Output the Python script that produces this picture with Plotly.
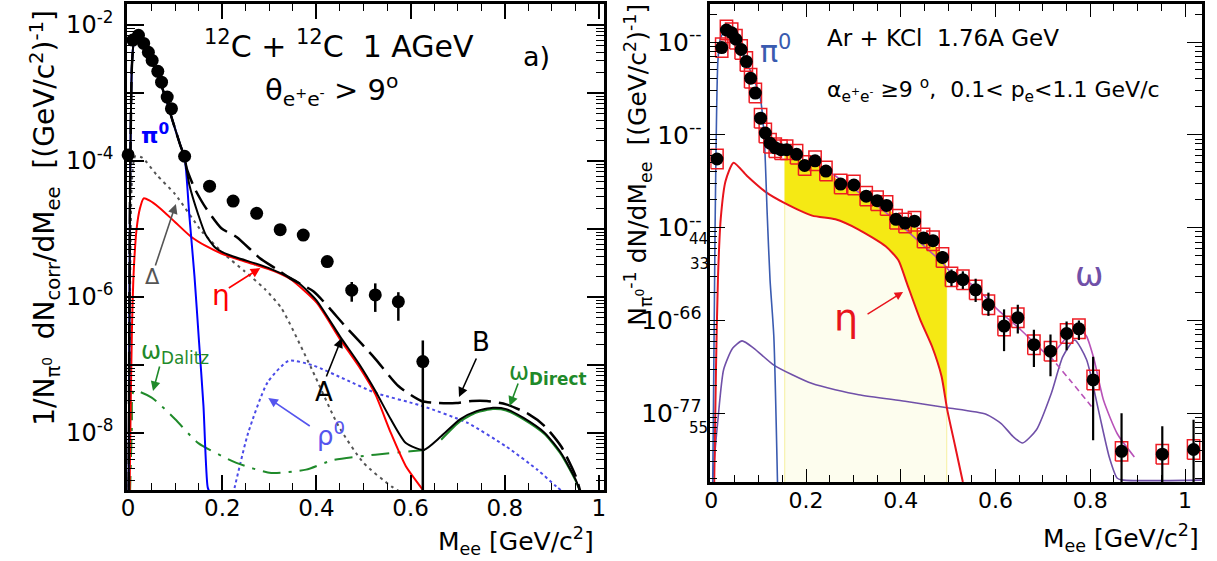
import numpy as np
import plotly.graph_objects as go

W, H = 1217, 561
FONT = "DejaVu Sans"

# ---------------- Left panel a): 12C + 12C 1 AGeV (values as log10) ----------------
L_data_m = [0.0, 0.010, 0.022, 0.033, 0.043, 0.051, 0.063, 0.071, 0.083, 0.092, 0.120,
            0.173, 0.223, 0.273, 0.323, 0.372, 0.423, 0.475, 0.525, 0.574, 0.626]
L_data_lg = [-3.91, -2.22, -2.15, -2.27, -2.40, -2.52, -2.68, -2.84, -3.06, -3.23, -3.93,
             -4.37, -4.59, -4.77, -5.01, -5.09, -5.48, -5.90, -5.97, -6.07, -6.95]
L_err_up = [0, 0, 0, 0, 0, 0, 0, 0, 0, 0, 0, 0, 0, 0, 0, 0, 0.07, 0.12, 0.17, 0.14, 0.31]
L_err_dn = [0, 0, 0, 0, 0, 0, 0, 0, 0, 0, 0, 0, 0, 0, 0, 0, 0.07, 0.17, 0.25, 0.28, 3.0]

L_pi0_m = [0.001, 0.004, 0.008, 0.012, 0.018, 0.025, 0.035, 0.05, 0.065, 0.08, 0.095, 0.11,
           0.12, 0.13, 0.141, 0.15, 0.16, 0.169, 0.175]
L_pi0_lg = [-8.9, -4.5, -2.6, -2.25, -2.13, -2.16, -2.28, -2.52, -2.78, -3.08, -3.42, -3.75,
            -3.95, -4.8, -5.7, -6.6, -7.6, -8.8, -8.9]

L_A_m = [0.001, 0.004, 0.008, 0.012, 0.018, 0.025, 0.035, 0.05, 0.065, 0.08, 0.095, 0.11,
         0.12, 0.13, 0.149, 0.165, 0.186, 0.2, 0.23, 0.272, 0.304, 0.345, 0.362, 0.4, 0.45,
         0.49, 0.525, 0.558, 0.59, 0.628, 0.665, 0.705, 0.74, 0.775, 0.803, 0.84, 0.885,
         0.92, 0.951, 0.962]
L_A_lg = [-8.9, -4.5, -2.6, -2.25, -2.13, -2.16, -2.28, -2.52, -2.78, -3.08, -3.42, -3.75,
          -3.95, -4.35, -4.79, -5.09, -5.28, -5.34, -5.42, -5.51, -5.59, -5.72, -5.79, -6.05,
          -6.58, -6.98, -7.38, -7.80, -8.15, -8.25, -8.05, -7.80, -7.68, -7.63, -7.65, -7.78,
          -8.0, -8.3, -8.69, -8.9]

L_B_m = [0.001, 0.004, 0.008, 0.012, 0.018, 0.025, 0.035, 0.05, 0.065, 0.08, 0.095, 0.11,
         0.12, 0.124, 0.141, 0.165, 0.198, 0.231, 0.28, 0.313, 0.345, 0.394, 0.46, 0.525,
         0.574, 0.623, 0.66, 0.697, 0.73, 0.762, 0.803, 0.85, 0.885, 0.92, 0.951, 0.962]
L_B_lg = [-8.9, -4.5, -2.6, -2.25, -2.13, -2.16, -2.28, -2.52, -2.78, -3.08, -3.42, -3.75,
          -3.95, -4.1, -4.40, -4.69, -4.99, -5.12, -5.43, -5.58, -5.73, -5.92, -6.42, -6.91,
          -7.31, -7.53, -7.56, -7.56, -7.53, -7.53, -7.58, -7.72, -7.90, -8.2, -8.64, -8.9]

L_eta_m = [0.003, 0.005, 0.008, 0.012, 0.018, 0.025, 0.033, 0.045, 0.067, 0.1, 0.133, 0.165,
           0.198, 0.235, 0.272, 0.31, 0.345, 0.4, 0.45, 0.49, 0.525, 0.558, 0.59, 0.623, 0.632]
L_eta_lg = [-8.9, -7.8, -6.5, -5.6, -5.0, -4.7, -4.55, -4.58, -4.69, -4.9, -5.11, -5.25,
            -5.36, -5.45, -5.53, -5.62, -5.74, -6.08, -6.62, -7.02, -7.43, -8.0, -8.49, -8.81, -8.9]

L_delta_m = [0.001, 0.004, 0.008, 0.015, 0.03, 0.06, 0.1, 0.157, 0.206, 0.247, 0.29, 0.326,
             0.39, 0.447, 0.5, 0.56, 0.6]
L_delta_lg = [-8.9, -6.0, -4.3, -3.93, -3.95, -4.2, -4.49, -5.04, -5.38, -5.62, -5.88, -6.17,
              -7.06, -7.9, -8.44, -8.79, -8.95]

L_rho_m = [0.223, 0.255, 0.296, 0.341, 0.394, 0.46, 0.525, 0.623, 0.72, 0.803, 0.869, 0.91, 0.93]
L_rho_lg = [-8.9, -8.0, -7.26, -6.94, -7.01, -7.21, -7.41, -7.60, -7.85, -8.2, -8.54, -8.79, -8.9]

L_omD_m = [0.004, 0.008, 0.012, 0.05, 0.1, 0.149, 0.23, 0.304, 0.378, 0.435, 0.525, 0.6, 0.63]
L_omD_lg = [-8.9, -7.9, -7.38, -7.48, -7.8, -8.15, -8.44, -8.59, -8.54, -8.40, -8.32, -8.27, -8.25]

L_omDir_m = [0.665, 0.705, 0.74, 0.775, 0.803, 0.84, 0.885, 0.92, 0.951, 0.962]
L_omDir_lg = [-8.1, -7.83, -7.70, -7.65, -7.67, -7.80, -8.02, -8.32, -8.71, -8.9]

# ---------------- Right panel: Ar + KCl 1.76A GeV (values as log10) ----------------
R_data_m = [0.012, 0.022, 0.032, 0.043, 0.052, 0.063, 0.074, 0.083, 0.093, 0.104, 0.114,
            0.124, 0.135, 0.147, 0.159, 0.18, 0.197, 0.219, 0.242, 0.273, 0.301, 0.327, 0.35,
            0.37, 0.39, 0.409, 0.429, 0.448, 0.468, 0.488, 0.507, 0.531, 0.558, 0.585, 0.618,
            0.647, 0.681, 0.716, 0.75, 0.776, 0.806, 0.866, 0.952, 1.018]
R_data_lg = [-4.26, -3.06, -2.87, -2.90, -2.97, -3.08, -3.21, -3.39, -3.55, -3.82, -3.98,
             -4.09, -4.14, -4.16, -4.16, -4.21, -4.33, -4.28, -4.39, -4.53, -4.54, -4.66, -4.71,
             -4.76, -4.91, -4.95, -4.93, -5.11, -5.14, -5.32, -5.53, -5.56, -5.67, -5.83, -6.06,
             -5.97, -6.26, -6.33, -6.14, -6.09, -6.64, -7.41, -7.44, -7.39]
R_err_up = [0.03] * 24 + [0.05, 0.05, 0.05, 0.06, 0.06, 0.07, 0.08, 0.09, 0.12, 0.13, 0.18,
                          0.14, 0.16, 0.18, 0.13, 0.09, 0.25, 0.41, 0.30, 0.32]
R_err_dn = [0.03] * 24 + [0.05, 0.05, 0.05, 0.06, 0.06, 0.07, 0.10, 0.10, 0.13, 0.12, 0.27,
                          0.17, 0.24, 0.27, 0.18, 0.12, 0.65, 2.0, 2.0, 2.0]

R_pi0_m = [0.003, 0.008, 0.014, 0.02, 0.03, 0.045, 0.06, 0.075, 0.093, 0.104, 0.112, 0.118,
           0.124, 0.132, 0.14]
R_pi0_lg = [-7.8, -5.0, -3.2, -2.95, -2.88, -2.92, -3.05, -3.22, -3.44, -3.62, -4.05, -4.85,
            -5.56, -6.17, -7.8]

R_eta_m = [0.006, 0.01, 0.014, 0.02, 0.03, 0.047, 0.075, 0.116, 0.153, 0.213, 0.262, 0.311,
           0.368, 0.395, 0.413, 0.441, 0.466, 0.486, 0.498, 0.515, 0.531]
R_eta_lg = [-7.8, -6.5, -5.56, -4.9, -4.5, -4.30, -4.44, -4.62, -4.73, -4.87, -4.91, -5.02,
            -5.20, -5.35, -5.6, -5.99, -6.28, -6.60, -6.96, -7.36, -7.74]

R_om_m = [0.003, 0.008, 0.014, 0.026, 0.045, 0.065, 0.09, 0.132, 0.213, 0.311, 0.409, 0.498,
          0.58, 0.612, 0.637, 0.657, 0.686, 0.718, 0.742, 0.767, 0.792, 0.817, 0.84, 0.857,
          0.87, 1.035]
R_om_lg = [-7.72, -7.4, -7.07, -6.53, -6.3, -6.22, -6.3, -6.48, -6.68, -6.80, -6.87, -6.94,
           -7.01, -7.11, -7.25, -7.32, -7.18, -6.78, -6.39, -6.21, -6.42, -6.96, -7.47, -7.70,
           -7.72, -7.72]

R_fit_m = [0.25, 0.36, 0.488, 0.507, 0.555, 0.604, 0.653, 0.686, 0.714, 0.742, 0.771, 0.792,
           0.808, 0.828, 0.857, 0.893]
R_fit_lg = [-4.40, -4.80, -5.38, -5.49, -5.63, -5.88, -6.10, -6.26, -6.38, -6.23, -6.06, -6.17,
            -6.42, -6.86, -7.22, -7.47]
R_fitd_m = [0.714, 0.76, 0.808]
R_fitd_lg = [-6.38, -6.66, -6.96]

R_yel_up_m = [0.155, 0.18, 0.2, 0.22, 0.245, 0.27, 0.3, 0.33, 0.35, 0.37, 0.39, 0.41, 0.43,
              0.45, 0.47, 0.49, 0.497]
R_yel_up_lg = [-4.21, -4.23, -4.31, -4.30, -4.39, -4.50, -4.56, -4.65, -4.71, -4.77, -4.88,
               -4.94, -4.99, -5.09, -5.17, -5.30, -5.42]
R_yel_lo_m = [0.155, 0.213, 0.262, 0.311, 0.368, 0.395, 0.413, 0.441, 0.466, 0.486, 0.497]
R_yel_lo_lg = [-4.74, -4.87, -4.91, -5.02, -5.20, -5.35, -5.6, -5.99, -6.28, -6.60, -6.9]
R_cream_m = [0.155, 0.497]
R_cream_lg = [-8.0, -8.0]


def P(v):
    return np.power(10.0, np.asarray(v, dtype=float))


def PX(x):
    return x / W


def PY(y):
    return 1 - y / H


fig = go.Figure()


def line(xs, lgs, color, width=2, dash="solid", ax="1", **kw):
    fig.add_trace(go.Scatter(x=xs, y=P(lgs), mode="lines",
                             line=dict(color=color, width=width, dash=dash, shape="spline",
                                       smoothing=0.6),
                             xaxis="x" if ax == "1" else "x2",
                             yaxis="y" if ax == "1" else "y2",
                             hoverinfo="skip", showlegend=False, **kw))


# ---- left panel curves ----
line(L_delta_m, L_delta_lg, "#555555", 2, "3px,4px")
line(L_rho_m, L_rho_lg, "#4a4ae8", 2, "3px,3px")
line(L_omD_m, L_omD_lg, "#1f8a2a", 2, "18px,8px,3px,8px")
line(L_omDir_m, L_omDir_lg, "#1f8a2a", 2)
line(L_eta_m, L_eta_lg, "#ff0000", 2)
line(L_pi0_m, L_pi0_lg, "#0000ff", 2)
line(L_B_m, L_B_lg, "#000000", 2.5, "22px,8px")
line(L_A_m, L_A_lg, "#000000", 2)

ly = P(L_data_lg)
fig.add_trace(go.Scatter(
    x=L_data_m, y=ly, mode="markers",
    marker=dict(size=0.1, color="black"),
    error_y=dict(type="data", array=P(np.add(L_data_lg, L_err_up)) - ly,
                 arrayminus=ly - P(np.subtract(L_data_lg, L_err_dn)),
                 color="black", thickness=2.5, width=0),
    xaxis="x", yaxis="y", showlegend=False, hoverinfo="skip"))
fig.add_trace(go.Scatter(
    x=L_data_m, y=ly, mode="markers", cliponaxis=False,
    marker=dict(size=13, color="black", symbol="circle"),
    xaxis="x", yaxis="y", showlegend=False, hoverinfo="skip"))

# ---- right panel ----
fig.add_trace(go.Scatter(x=R_cream_m, y=P(R_cream_lg), mode="lines",
                         line=dict(width=0, color="rgba(0,0,0,0)"),
                         xaxis="x2", yaxis="y2", showlegend=False, hoverinfo="skip"))
fig.add_trace(go.Scatter(x=R_yel_up_m, y=P(R_yel_up_lg), mode="lines", fill="tonexty",
                         fillcolor="#fdfdee", line=dict(width=0, color="rgba(0,0,0,0)"),
                         xaxis="x2", yaxis="y2", showlegend=False, hoverinfo="skip"))
fig.add_trace(go.Scatter(x=[R_cream_m[0], R_cream_m[0], None, R_cream_m[1], R_cream_m[1]],
                         y=[P(R_cream_lg[0]), P(R_yel_up_lg[0]), None,
                            P(R_cream_lg[1]), P(R_yel_up_lg[-1])],
                         mode="lines", line=dict(width=1, color="#f6f0a0"),
                         xaxis="x2", yaxis="y2", showlegend=False, hoverinfo="skip"))
fig.add_trace(go.Scatter(x=R_yel_lo_m, y=P(R_yel_lo_lg), mode="lines",
                         line=dict(width=0, color="rgba(0,0,0,0)"),
                         xaxis="x2", yaxis="y2", showlegend=False, hoverinfo="skip"))
fig.add_trace(go.Scatter(x=R_yel_up_m, y=P(R_yel_up_lg), mode="lines", fill="tonexty",
                         fillcolor="#f5e914", line=dict(width=0, color="rgba(0,0,0,0)"),
                         xaxis="x2", yaxis="y2", showlegend=False, hoverinfo="skip"))

line(R_om_m, R_om_lg, "#7050a8", 1.6, ax="2")
line(R_eta_m, R_eta_lg, "#e8141c", 2, ax="2")
line(R_pi0_m, R_pi0_lg, "#3a5bb0", 1.6, ax="2")
line(R_fitd_m, R_fitd_lg, "#b852b8", 1.6, "6px,4px", ax="2")
line(R_fit_m, R_fit_lg, "#b852b8", 1.6, ax="2")

ry = P(R_data_lg)
# systematic boxes
bx, by = [], []
hw, hh = 0.013, 0.105
for m, lg in zip(R_data_m, R_data_lg):
    lo, hi = 10 ** (lg - hh), 10 ** (lg + hh)
    bx += [m - hw, m + hw, m + hw, m - hw, m - hw, None]
    by += [lo, lo, hi, hi, lo, None]
fig.add_trace(go.Scatter(x=bx, y=by, mode="lines", line=dict(color="#ee1c24", width=1.5),
                         xaxis="x2", yaxis="y2", showlegend=False, hoverinfo="skip"))
fig.add_trace(go.Scatter(
    x=R_data_m, y=ry, mode="markers",
    marker=dict(size=0.1, color="black"),
    error_y=dict(type="data", array=P(np.add(R_data_lg, R_err_up)) - ry,
                 arrayminus=ry - P(np.subtract(R_data_lg, R_err_dn)),
                 color="black", thickness=2.2, width=0),
    xaxis="x2", yaxis="y2", showlegend=False, hoverinfo="skip"))
fig.add_trace(go.Scatter(
    x=R_data_m, y=ry, mode="markers",
    marker=dict(size=13, color="black", symbol="circle"),
    xaxis="x2", yaxis="y2", showlegend=False, hoverinfo="skip"))

# ---- axes ----
L_xticks = [0, 0.2, 0.4, 0.6, 0.8, 1.0]
L_xtext = ["0", "0.2", "0.4", "0.6", "0.8", "1"]
L_yticks = [1e-8, 1e-7, 1e-6, 1e-5, 1e-4, 1e-3, 1e-2]
L_ytext = ["10<sup>-8</sup>", "", "10<sup>-6</sup>", "", "10<sup>-4</sup>", "", "10<sup>-2</sup>"]
R_yticks = [1e-7, 1e-6, 1e-5, 1e-4, 1e-3]
R_ytext = ["10<sup>-77</sup>", "10<sup>-66</sup>", "10<sup>--</sup>", "10<sup>--</sup>",
           "10<sup>--</sup>"]


def tf(size):
    return dict(family=FONT, size=size, color="black")


common_x = dict(showgrid=False, zeroline=False, showline=True, linecolor="black",
                ticks="inside", mirror="ticks", tickcolor="black",
                tickmode="array", tickvals=L_xticks, ticktext=L_xtext)
common_y = dict(type="log", showgrid=False, zeroline=False, showline=True, linecolor="black",
                ticks="inside", mirror="ticks", tickcolor="black",
                tickmode="array", exponentformat="power")

fig.update_layout(
    width=W, height=H, margin=dict(l=0, r=0, t=0, b=0),
    paper_bgcolor="white", plot_bgcolor="white", showlegend=False,
    font=dict(family=FONT, color="black"),
    xaxis=dict(domain=[122 / W, 602 / W], range=[-0.002, 1.011], anchor="y",
               linewidth=3, ticklen=15, tickwidth=1.5, tickfont=tf(23),
               ticklabelstandoff=-5,
               minor=dict(dtick=0.05, tick0=0, ticks="inside", ticklen=7, tickwidth=1.2,
                          tickcolor="black"),
               **common_x),
    yaxis=dict(domain=[1 - 490 / H, 1 - 4 / H], range=[-8.84, -1.69], anchor="x",
               linewidth=3, ticklen=17, tickwidth=1.5, tickvals=L_yticks, ticktext=L_ytext,
               ticklabelstandoff=6, tickfont=tf(24),
               minor=dict(dtick="D1", ticks="inside", ticklen=8, tickwidth=1.2,
                          tickcolor="black"),
               **common_y),
    xaxis2=dict(domain=[709 / W, 1204 / W], range=[-0.002, 1.036], anchor="y2",
                linewidth=2.5, ticklen=13, tickwidth=1.3, tickfont=tf(22),
                ticklabelstandoff=-3,
                minor=dict(dtick=0.05, tick0=0, ticks="inside", ticklen=7, tickwidth=1.1,
                           tickcolor="black"),
                **common_x),
    yaxis2=dict(domain=[1 - 482 / H, 1 - 4 / H], range=[-7.74, -2.59], anchor="x2",
                linewidth=2.5, ticklen=15, tickwidth=1.3, tickvals=R_yticks, ticktext=R_ytext,
                ticklabelstandoff=1, tickfont=tf(25),
                minor=dict(dtick="D1", ticks="inside", ticklen=7, tickwidth=1.1,
                           tickcolor="black"),
                **common_y),
)

ann = []


def text(x, y, s, size, color="black", angle=0, xanchor="center", yanchor="middle"):
    ann.append(dict(x=PX(x), y=PY(y), xref="paper", yref="paper", text=s, showarrow=False,
                    font=dict(family=FONT, size=size, color=color), textangle=angle,
                    xanchor=xanchor, yanchor=yanchor))


def arrow(tx, ty, hx, hy, color, width=1.6):
    ann.append(dict(x=PX(hx), y=PY(hy), xref="paper", yref="paper", text="",
                    showarrow=True, ax=tx - hx, ay=ty - hy, arrowhead=2, arrowsize=1.2,
                    arrowwidth=width, arrowcolor=color))


# left panel texts
text(335, 45, "<sup>12</sup>C + <sup>12</sup>C  1 AGeV", 30)
text(328, 90, "θ<sub>e<sup>+</sup>e<sup>-</sup></sub> > 9<sup>o</sup>", 29)
text(534, 57, "a)", 27)
text(150, 134, "<b>π<sup>0</sup></b>", 22, "#0000ff")
text(147, 277, "Δ", 21, "#555555")
arrow(150, 267, 171, 204, "#555555")
text(216, 295, "η", 28, "#ff0000")
arrow(223, 289, 256, 268, "#ff0000")
text(170, 352, "ω<sub>Dalitz</sub>", 24, "#1f8a2a")
arrow(155, 365, 148, 391, "#1f8a2a")
text(327, 434, "ρ<sup>0</sup>", 26, "#5555ee")
arrow(307, 427, 264, 398, "#5555ee")
text(320, 392, "A", 26)
arrow(322, 378, 338, 338, "black")
text(478, 342, "B", 26)
arrow(474, 357, 456, 397, "black")
text(545, 373, "ω<sub><b>Direct</b></sub>", 24, "#1f8a2a")
arrow(516, 382, 507, 406, "#1f8a2a")
text(39, 218, "1/N<sub>π<sup>0</sup></sub>  dN<sub>corr</sub>/dM<sub>ee</sub>  [(GeV/c<sup>2</sup>)<sup>-1</sup>]",
     28, angle=-90)
text(594, 541, "M<sub>ee</sub> [GeV/c<sup>2</sup>]", 25, xanchor="right")

# right panel texts
text(775, 50, "π<sup>0</sup>", 30, "#3a5bb0")
text(943, 38, "Ar + KCl  1.76A GeV", 23)
text(994, 90, "α<sub>e<sup>+</sup>e<sup>-</sup></sub> ≥9 <sup>o</sup>,  0.1< p<sub>e</sub><1.1 GeV/c", 22)
text(1090, 274, "ω", 34, "#7050a8")
text(846, 318, "η", 38, "#e8141c")
arrow(866, 315, 903, 292, "#e8141c", 1.4)
text(697, 239, "44", 15, xanchor="center")
text(698, 264, "33", 15, xanchor="center")
text(697, 428, "55", 15, xanchor="center")
text(636, 165, "N<sub>π<sup>0</sup></sub><sup>-1</sup> dN/dM<sub>ee</sub>  [(GeV/c<sup>2</sup>)<sup>-1</sup>]",
     25, angle=-90)
text(1203, 538, "M<sub>ee</sub> [GeV/c<sup>2</sup>]", 25, xanchor="right")

fig.update_layout(annotations=ann)
fig.write_html("out.html")
